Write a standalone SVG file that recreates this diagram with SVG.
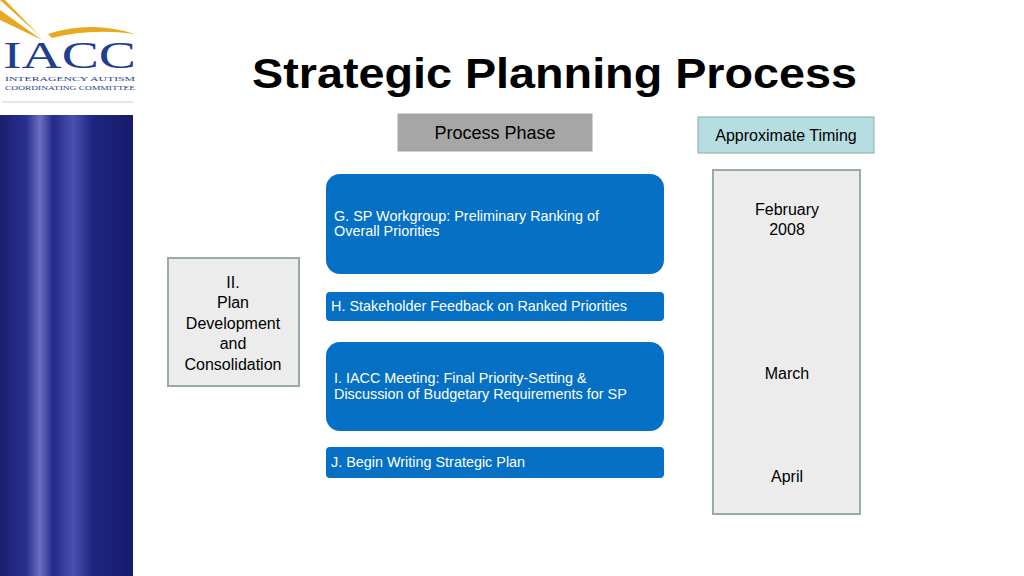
<svg xmlns="http://www.w3.org/2000/svg" width="1024" height="576" viewBox="0 0 1024 576">
<defs>
<style>
text{font-family:"Liberation Sans",Arial,sans-serif}
.serif{font-family:"Liberation Serif","Times New Roman",serif;fill:#1f3f8f}
.blue{fill:#0570c4}
.wt{fill:#fff;font-size:14.4px}
.bt{fill:#000;font-size:16px;text-anchor:middle}
</style>
<linearGradient id="bar" x1="0" x2="1">
<stop offset="0" stop-color="#1a1f6e"/><stop offset="0.2" stop-color="#2a3090"/><stop offset="0.3" stop-color="#6a70c0"/><stop offset="0.4" stop-color="#222a8a"/><stop offset="0.55" stop-color="#4a50b0"/><stop offset="0.7" stop-color="#1e2580"/><stop offset="1" stop-color="#161c6a"/>
</linearGradient>
</defs>
<rect width="1024" height="576" fill="#fff"/>
<g id="logo">
<path d="M0 10 L42 40 L0 20 Z M0 0 L40 36 L5 0 Z" fill="#e8a820"/>
<path d="M48 34 Q90 20 135 34 Q90 28 52 38 Z" fill="#e8a820"/>
<text class="serif" x="3" y="68" style="font-size:38px" textLength="133" lengthAdjust="spacingAndGlyphs">IACC</text>
<text class="serif" x="5" y="81" style="font-size:7px" textLength="130" lengthAdjust="spacingAndGlyphs">INTERAGENCY AUTISM</text>
<text class="serif" x="5" y="90" style="font-size:7px" textLength="130" lengthAdjust="spacingAndGlyphs">COORDINATING COMMITTEE</text>
<line x1="2" y1="102" x2="133" y2="102" stroke="#ccc"/>
</g>
<rect x="0" y="115" width="133" height="461" fill="url(#bar)"/>
<text x="252" y="88" textLength="605" lengthAdjust="spacingAndGlyphs" style="font-size:43px;font-weight:bold;fill:#000">Strategic Planning Process</text>
<g id="hdr-phase"><rect x="398" y="114" width="194" height="37" fill="#a6a6a6" stroke="#9aa"/><text class="bt" x="495" y="139" style="font-size:18px">Process Phase</text></g>
<g id="hdr-timing"><rect x="698" y="117" width="176" height="36" fill="#b6dde0" stroke="#8aa"/><text class="bt" x="786" y="141">Approximate Timing</text></g>
<g id="timing"><rect x="713" y="170" width="147" height="344" fill="#ececec" stroke="#9aa" stroke-width="2"/>
<text class="bt" x="787" y="215">February</text><text class="bt" x="787" y="235">2008</text>
<text class="bt" x="787" y="379">March</text><text class="bt" x="787" y="482">April</text></g>
<g id="phase2"><rect x="168" y="258" width="131" height="128" fill="#ececec" stroke="#9aa" stroke-width="2"/>
<text class="bt" x="233" y="288">II.</text><text class="bt" x="233" y="308">Plan</text><text class="bt" x="233" y="329">Development</text><text class="bt" x="233" y="349">and</text><text class="bt" x="233" y="370">Consolidation</text></g>
<g id="G"><rect class="blue" x="326" y="174" width="338" height="100" rx="14"/><text class="wt" x="334" y="221">G. SP Workgroup: Preliminary Ranking of</text><text class="wt" x="334" y="236">Overall Priorities</text></g>
<g id="H"><rect class="blue" x="326" y="292" width="338" height="29" rx="4"/><text class="wt" x="331" y="311">H. Stakeholder Feedback on Ranked Priorities</text></g>
<g id="I"><rect class="blue" x="326" y="342" width="338" height="89" rx="14"/><text class="wt" x="334" y="383">I. IACC Meeting: Final Priority-Setting &amp;</text><text class="wt" x="334" y="399">Discussion of Budgetary Requirements for SP</text></g>
<g id="J"><rect class="blue" x="326" y="447" width="338" height="31" rx="4"/><text class="wt" x="331" y="467">J. Begin Writing Strategic Plan</text></g>
<g id="connectors"/>
</svg>
